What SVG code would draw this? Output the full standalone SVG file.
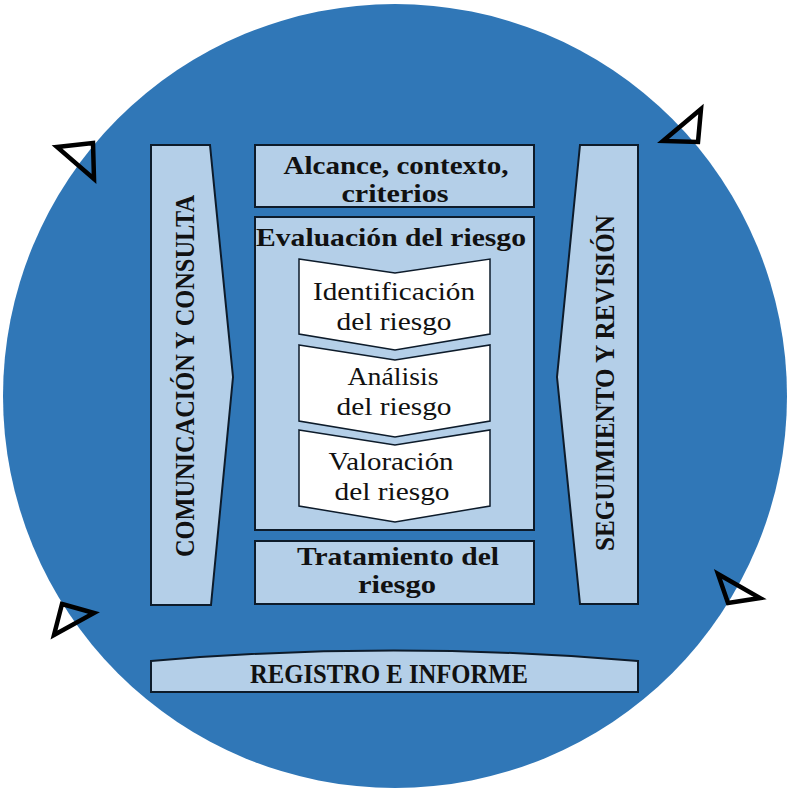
<svg xmlns="http://www.w3.org/2000/svg" width="790" height="790" viewBox="0 0 790 790">
<style>
.box{fill:#B4CFE8;stroke:#0D1B2A;stroke-width:2}
.chev{fill:#FFFFFF;stroke:#0D1B2A;stroke-width:1.5}
.tri{fill:none;stroke:#000;stroke-width:4.5;stroke-linejoin:miter}
.b{font-family:"Liberation Serif","DejaVu Serif",serif;font-weight:bold;fill:#111;text-anchor:middle}
.r{font-family:"Liberation Serif","DejaVu Serif",serif;fill:#111;text-anchor:middle}
</style>
<rect width="790" height="790" fill="#FFFFFF"/>
<circle id="ring" cx="395" cy="396" r="392" fill="#3077B7"/>
<g id="connectors">
<polygon class="tri" points="57,147 93,143 94,179"/>
<polygon class="tri" points="701,109 663,141 698,142"/>
<polygon class="tri" points="62,604 94,613 54,635"/>
<polygon class="tri" points="718,574 760,598 728,603"/>
</g>
<g id="comunicacion">
<polygon class="box" points="151,145 210,145 233,377 211,605 151,605"/>
<text class="b" font-size="27" transform="translate(194,376) rotate(-90)" textLength="362" lengthAdjust="spacingAndGlyphs">COMUNICACIÓN Y CONSULTA</text>
</g>
<g id="seguimiento">
<polygon class="box" points="580,145 638,145 638,604 580,604 557,377"/>
<text class="b" font-size="27" transform="translate(614,383) rotate(-90)" textLength="336" lengthAdjust="spacingAndGlyphs">SEGUIMIENTO Y REVISIÓN</text>
</g>
<g id="alcance">
<rect class="box" x="255" y="145" width="279" height="62"/>
<text class="b" font-size="26" x="396" y="174" textLength="225" lengthAdjust="spacingAndGlyphs">Alcance, contexto,</text>
<text class="b" font-size="26" x="395" y="202" textLength="107" lengthAdjust="spacingAndGlyphs">criterios</text>
</g>
<g id="evaluacion">
<rect class="box" x="255" y="217" width="279" height="313"/>
<text class="b" font-size="26" x="391" y="246" textLength="270" lengthAdjust="spacingAndGlyphs">Evaluación del riesgo</text>
</g>
<g id="identificacion">
<polygon class="chev" points="299,259 395,273 490,259 490,334 395,350 299,334"/>
<text class="r" font-size="25" x="394" y="300" textLength="162" lengthAdjust="spacingAndGlyphs">Identificación</text>
<text class="r" font-size="25" x="394" y="330" textLength="115" lengthAdjust="spacingAndGlyphs">del riesgo</text>
</g>
<g id="analisis">
<polygon class="chev" points="299,345 395,360 490,345 490,421 395,437 299,421"/>
<text class="r" font-size="25" x="393" y="385" textLength="91" lengthAdjust="spacingAndGlyphs">Análisis</text>
<text class="r" font-size="25" x="394" y="415" textLength="115" lengthAdjust="spacingAndGlyphs">del riesgo</text>
</g>
<g id="valoracion">
<polygon class="chev" points="299,430 395,445 490,430 490,506 395,522 299,506"/>
<text class="r" font-size="25" x="391" y="470" textLength="125" lengthAdjust="spacingAndGlyphs">Valoración</text>
<text class="r" font-size="25" x="392" y="500" textLength="115" lengthAdjust="spacingAndGlyphs">del riesgo</text>
</g>
<g id="tratamiento">
<rect class="box" x="255" y="541" width="279" height="63"/>
<text class="b" font-size="26" x="398" y="565" textLength="202" lengthAdjust="spacingAndGlyphs">Tratamiento del</text>
<text class="b" font-size="26" x="397" y="593" textLength="78" lengthAdjust="spacingAndGlyphs">riesgo</text>
</g>
<g id="registro">
<path class="box" d="M151,661 Q393,640 638,661 L638,692 L151,692 Z"/>
<text class="b" font-size="27" x="389" y="683" textLength="278" lengthAdjust="spacingAndGlyphs">REGISTRO E INFORME</text>
</g>
</svg>
